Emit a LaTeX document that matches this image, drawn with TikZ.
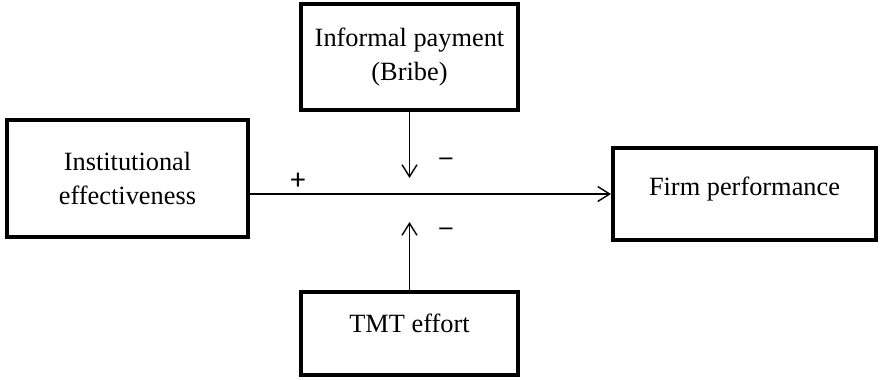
\documentclass[tikz,border=0pt]{standalone}
\usepackage{fontspec}
\setmainfont{Liberation Serif}
\newfontfamily\signfont{Carlito}
\newfontfamily\minusfont{DejaVu Sans}
\usetikzlibrary{arrows.meta}

\begin{document}
\begin{tikzpicture}[x=0.02cm, y=-0.02cm]

\tikzset{factor/.style = {shape=rectangle, draw, line width=2.3pt, align=center,
  inner sep=0pt, font=\fontsize{15}{19.5}\selectfont}}
\tikzset{link/.style = {-{Straight Barb[length=2.4mm, width=3mm]}, line width=0.8pt}}
\tikzset{sign/.style = {font=\signfont\fontsize{17}{18}\selectfont}}
\tikzset{negsign/.style = {font=\minusfont\fontsize{12}{14}\selectfont}}
\useasboundingbox (0,0) rectangle (881,379);
%boxes
\node[factor, minimum width=241*0.02cm, minimum height=117*0.02cm] (inst) at (127.5,178.5) {Institutional\\effectiveness};
\node[factor, minimum width=217*0.02cm, minimum height=106*0.02cm] (bribe) at (409.5,57) {Informal payment\\(Bribe)};
\node[factor, minimum width=263*0.02cm, minimum height=92*0.02cm, text depth=0.3cm] (firm) at (744.5,194) {Firm performance};
\node[factor, minimum width=217*0.02cm, minimum height=83*0.02cm, text depth=0.4cm] (tmt) at (409.5,333.5) {TMT effort};
\coordinate (top) at (409.5,178);
\coordinate (bot) at (409.5,222);
%signs
\node[sign] (plus) at (298,181) {+};
\node[negsign] (minus1) at (446,162) {−};
\node[negsign] (minus2) at (446,232) {−};
%arrows
\draw [link] (inst.east |- firm.west) -- (firm.west);
\draw [link] (bribe) -- (top);
\draw [link] (tmt) -- (bot);

\end{tikzpicture}
\end{document}
